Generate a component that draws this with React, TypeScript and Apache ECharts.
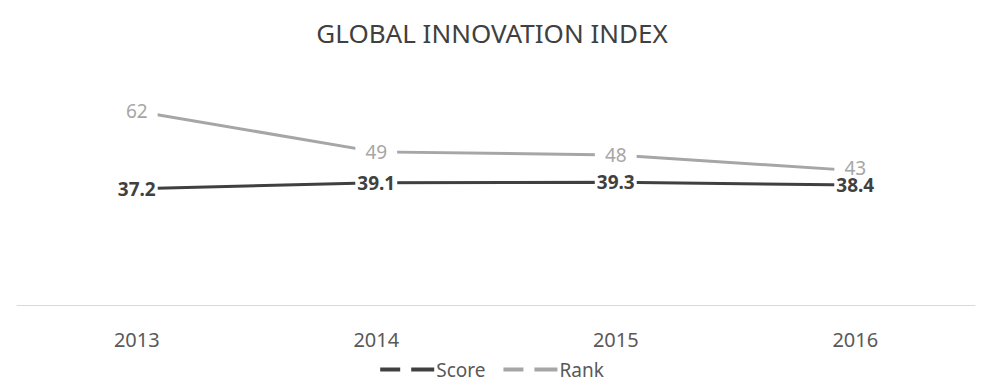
import React, { useEffect, useRef } from "react";
import * as echarts from "echarts";

const categories = ["2013", "2014", "2015", "2016"];
const scoreValues = [37.2, 39.1, 39.3, 38.4];
const rankValues = [62, 49, 48, 43];
const titleText = "GLOBAL INNOVATION INDEX";

const FONT = "'Noto Sans', 'Open Sans', sans-serif";

export default function App() {
  const ref = useRef<HTMLDivElement>(null);
  useEffect(() => {
    if (!ref.current) return;
    const chart = echarts.init(ref.current, null, { renderer: "svg" });
    const legendIcon = "path://M0,0H20V4H0Z M31,0H54V4H31Z";
    const rankData = rankValues.map((v, i) =>
      i === rankValues.length - 1 ? { value: v, label: { offset: [0, -3] } } : v
    );
    chart.setOption({
      animation: false,
      backgroundColor: "#ffffff",
      title: {
        text: titleText,
        left: "center",
        top: 15,
        textStyle: { fontFamily: FONT, fontSize: 26, fontWeight: "normal", color: "#404040" },
      },
      legend: {
        bottom: 2,
        left: "center",
        icon: legendIcon,
        itemWidth: 54,
        itemHeight: 4,
        itemGap: 18,
        textStyle: { fontFamily: FONT, fontSize: 19, color: "#595959", padding: [0, 0, 0, -3] },
        data: ["Score", "Rank"],
      },
      grid: { left: 17, right: 9, top: 55, bottom: 81 },
      xAxis: {
        type: "category",
        data: categories,
        boundaryGap: true,
        axisLine: { show: true, lineStyle: { color: "#d9d9d9", width: 1 } },
        axisTick: { show: false },
        axisLabel: { fontFamily: FONT, fontSize: 20, color: "#595959", margin: 24 },
      },
      yAxis: {
        type: "value",
        min: 0,
        max: 80,
        show: false,
        splitLine: { show: false },
      },
      series: [
        {
          name: "Score",
          type: "line",
          data: scoreValues,
          z: 3,
          symbol: "circle",
          symbolSize: 0,
          lineStyle: { color: "#404040", width: 3 },
          itemStyle: { color: "#404040" },
          label: {
            show: true,
            position: "inside",
            fontFamily: FONT,
            fontSize: 19,
            lineHeight: 17,
            fontWeight: "bold",
            color: "#404040",
            backgroundColor: "#ffffff",
            padding: [0, 2],
          },
        },
        {
          name: "Rank",
          type: "line",
          data: rankData,
          z: 2,
          symbol: "circle",
          symbolSize: 0,
          lineStyle: { color: "#a6a6a6", width: 3 },
          itemStyle: { color: "#a6a6a6" },
          label: {
            show: true,
            position: "inside",
            fontFamily: FONT,
            fontSize: 19,
            color: "#a6a6a6",
            backgroundColor: "#ffffff",
            padding: [0, 10],
          },
        },
      ],
    });
    return () => chart.dispose();
  }, []);
  return <div ref={ref} style={{ width: 984, height: 386, margin: -8 }} />;
}
